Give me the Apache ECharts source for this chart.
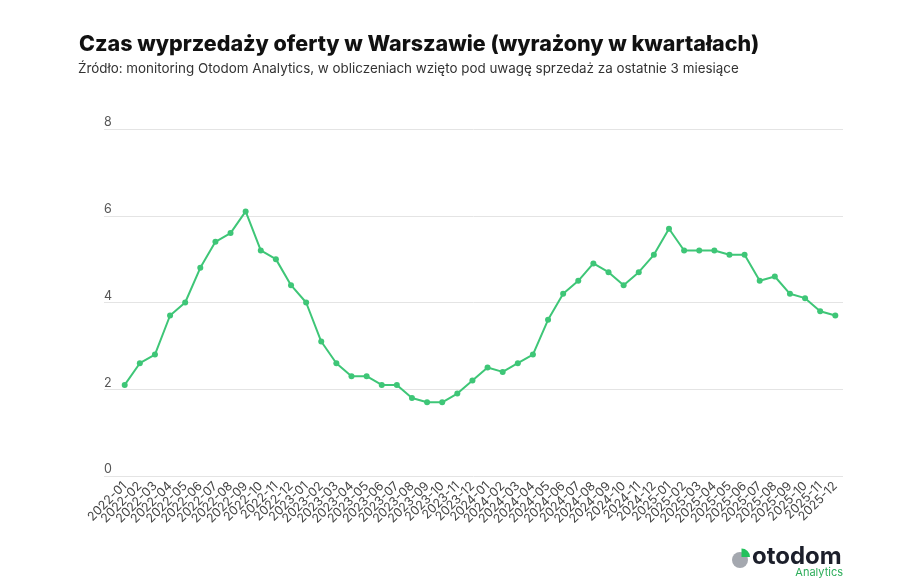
<!DOCTYPE html>
<html>
<head>
<meta charset="utf-8">
<script src="https://cdn.jsdelivr.net/npm/echarts@6/dist/echarts.min.js"></script>
<style>
  html, body { margin: 0; padding: 0; background: #fff; }
  #chart { width: 911px; height: 587px; }
</style>
</head>
<body>
<div id="chart"></div>
<script>
// months shown on the x axis
const months = [
  '2022-01', '2022-02', '2022-03', '2022-04', '2022-05', '2022-06',
  '2022-07', '2022-08', '2022-09', '2022-10', '2022-11', '2022-12',
  '2023-01', '2023-02', '2023-03', '2023-04', '2023-05', '2023-06',
  '2023-07', '2023-08', '2023-09', '2023-10', '2023-11', '2023-12',
  '2024-01', '2024-02', '2024-03', '2024-04', '2024-05', '2024-06',
  '2024-07', '2024-08', '2024-09', '2024-10', '2024-11', '2024-12',
  '2025-01', '2025-02', '2025-03', '2025-04', '2025-05', '2025-06',
  '2025-07', '2025-08', '2025-09', '2025-10', '2025-11', '2025-12'
];

// czas wyprzedaży oferty (kwartały)
const sellTime = [
  2.1, 2.6, 2.8, 3.7, 4.0, 4.8, 5.4, 5.6, 6.1, 5.2, 5.0, 4.4,
  4.0, 3.1, 2.6, 2.3, 2.3, 2.1, 2.1, 1.8, 1.7, 1.7, 1.9, 2.2,
  2.5, 2.4, 2.6, 2.8, 3.6, 4.2, 4.5, 4.9, 4.7, 4.4, 4.7, 5.1,
  5.7, 5.2, 5.2, 5.2, 5.1, 5.1, 4.5, 4.6, 4.2, 4.1, 3.8, 3.7
];

const yTicks = [0, 2, 4, 6, 8];

const green = '#3ec677';
const font = 'Inter, "Noto Sans", sans-serif';

const chart = echarts.init(document.getElementById('chart'));

const option = {
  backgroundColor: '#fff',
  animation: false,
  title: [
    {
      text: 'Czas wyprzedaży oferty w Warszawie (wyrażony w kwartałach)',
      left: 79,
      top: 34,
      padding: 0,
      textStyle: { fontFamily: font, fontSize: 21.5, fontWeight: 800, color: '#111' }
    },
    {
      text: 'Źródło: monitoring Otodom Analytics, w obliczeniach wzięto pod uwagę sprzedaż za ostatnie 3 miesiące',
      left: 78,
      top: 62,
      padding: 0,
      textStyle: { fontFamily: font, fontSize: 13.4, fontWeight: 'normal', color: '#333' }
    }
  ],
  grid: [
    // background grid: horizontal lines + y labels
    { left: 104, right: 68, top: 129, height: 347 },
    // data grid
    { left: 124.7, right: 75.7, top: 129, height: 347 }
  ],
  xAxis: [
    { gridIndex: 0, type: 'value', min: 0, max: 1, show: false },
    {
      gridIndex: 1,
      type: 'category',
      data: months,
      boundaryGap: false,
      axisLine: { show: false },
      axisTick: { show: false },
      axisLabel: {
        interval: 0,
        rotate: 45,
        margin: 8,
        fontFamily: font,
        fontSize: 12.5,
        color: '#444'
      }
    }
  ],
  yAxis: [
    {
      gridIndex: 0,
      type: 'value',
      min: yTicks[0],
      max: yTicks[yTicks.length - 1],
      interval: 2,
      axisLine: { show: false },
      axisTick: { show: false },
      splitLine: { lineStyle: { color: '#e4e4e4', width: 1 } },
      axisLabel: {
        inside: true,
        margin: 0,
        verticalAlign: 'bottom',
        padding: [0, 0, 0, 0],
        fontFamily: font,
        fontSize: 12.5,
        color: '#555'
      }
    },
    {
      gridIndex: 1,
      type: 'value',
      min: yTicks[0],
      max: yTicks[yTicks.length - 1],
      interval: 2,
      show: false,
      splitLine: { show: false }
    }
  ],
  series: [
    {
      type: 'line',
      xAxisIndex: 1,
      yAxisIndex: 1,
      data: sellTime,
      symbol: 'circle',
      symbolSize: 6,
      itemStyle: { color: green },
      lineStyle: { color: green, width: 2 }
    }
  ],
  graphic: [
    // otodom logo icon
    { type: 'circle', shape: { cx: 740, cy: 560, r: 8 }, style: { fill: '#a4a8af' } },
    { type: 'sector', shape: { cx: 741.5, cy: 557, r: 8.5, startAngle: -Math.PI / 2, endAngle: 0 }, style: { fill: '#23c15c' } },
    {
      type: 'text', left: 752, top: 545,
      style: { text: 'otodom', font: 'bold 24px ' + font, fill: '#1c1f2b' }
    },
    {
      type: 'text', right: 68, top: 567,
      style: { text: 'Analytics', font: '11px ' + font, fill: '#2eae5b' }
    }
  ]
};

chart.setOption(option);
window.addEventListener('resize', () => chart.resize());
</script>
</body>
</html>
